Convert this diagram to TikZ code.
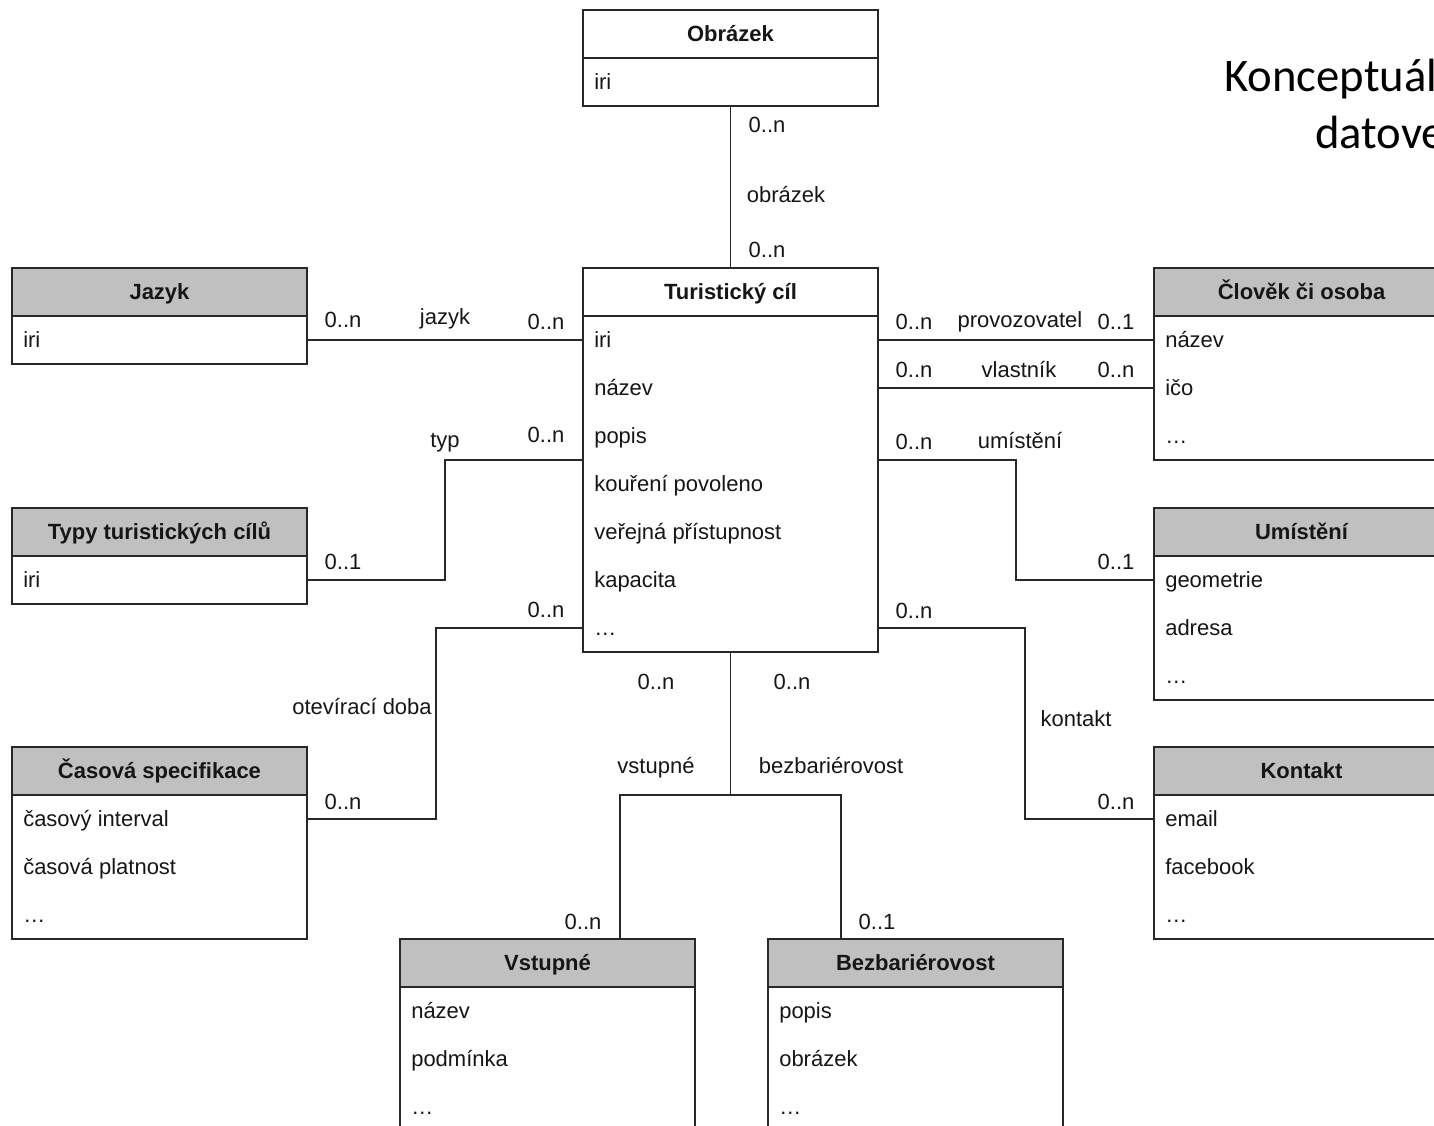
\documentclass[tikz,border=0pt]{standalone}
\usepackage{fontspec}
\setmainfont{Liberation Sans}
\newfontfamily\titlefont{Carlito}
\usetikzlibrary{calc}
\definecolor{hdrgray}{RGB}{192,192,192}
\definecolor{ink}{RGB}{22,22,22}
\definecolor{linecol}{RGB}{40,40,40}
\newcommand\entity[7]{%
  \node[#4] (#1) at (#2,#3) {#5};
  \node[erbody, minimum height=#6*36pt] (#1b) at (#1.south west) {};
  \foreach \attrtext [count=\idx] in {#7} {
    \coordinate (#1-r\idx) at ($(#1.south west)+(0,{24+48*(\idx-1)})$);
    \node[attr] (#1-\idx) at ($(#1.south west)+(11,{24+48*(\idx-1)+7.5})$) {\attrtext};
  }%
}
\begin{document}
\begin{tikzpicture}[x=0.75pt,y=-0.75pt,
  font=\fontsize{16.5}{19}\selectfont,
  erbox/.style={draw=linecol, line width=1.4pt, minimum width=221.25pt, inner sep=0pt, outer sep=0pt, anchor=north west},
  hdr/.style={erbox, minimum height=36pt, fill=hdrgray, font=\fontsize{16.5}{19}\selectfont\bfseries, text=ink, text height=11.8pt, text depth=0pt},
  hdrw/.style={hdr, fill=white},
  erbody/.style={erbox, fill=white},
  attr/.style={anchor=base west, inner sep=0pt, text=ink},
  lbl/.style={anchor=base, inner sep=0pt, text=ink},
  conn/.style={draw=linecol, line width=1.4pt},
]
\useasboundingbox (0,0) rectangle (1434,1126);
\clip (0,0) rectangle (1434,1126);
\fill[white] (0,0) rectangle (1434,1126);

\entity{ob}{583}{10}{hdrw}{Obrázek}{1}{iri}
\entity{tc}{583}{268}{hdrw}{Turistický cíl}{7}{iri,název,popis,kouření povoleno,veřejná přístupnost,kapacita,\ldots}
\entity{jz}{12}{268}{hdr}{Jazyk}{1}{iri}
\entity{ty}{12}{508}{hdr}{Typy turistických cílů}{1}{iri}
\entity{cs}{12}{747}{hdr}{Časová specifikace}{3}{časový interval,časová platnost,\ldots}
\entity{co}{1154}{268}{hdr}{Člověk či osoba}{3}{název,ičo,\ldots}
\entity{um}{1154}{508}{hdr}{Umístění}{3}{geometrie,adresa,\ldots}
\entity{ko}{1154}{747}{hdr}{Kontakt}{3}{email,facebook,\ldots}
\entity{vs}{400}{939}{hdr}{Vstupné}{3}{název,podmínka,\ldots}
\entity{bz}{768}{939}{hdr}{Bezbariérovost}{3}{popis,obrázek,\ldots}

\draw[conn] (obb.south) -- (tc.north);
\draw[conn] (jzb.east |- jz-r1) -- (tcb.west |- tc-r1);
\draw[conn] (tcb.west |- 0,460) -- (445,460) |- (tyb.east |- ty-r1);
\draw[conn] (tcb.west |- 0,628) -- (436,628) |- (csb.east |- cs-r1);
\draw[conn] (tcb.east |- tc-r1) -- (cob.west |- co-r1);
\draw[conn] (tcb.east |- tc-r2) -- (cob.west |- co-r2);
\draw[conn] (tcb.east |- 0,460) -- (1016,460) |- (umb.west |- um-r1);
\draw[conn] (tcb.east |- 0,628) -- (1025,628) |- (kob.west |- ko-r1);
\coordinate (split) at (tcb.south |- 0,795);
\draw[conn] (tcb.south) -- (split);
\draw[conn] (vs.north -| 620,0) |- (split) -| (bz.north -| 841,0);

% labels
\node[lbl] (l1) at (767,133) {0..n};
\node[lbl] (l2) at (786,203) {obrázek};
\node[lbl] (l3) at (767,258) {0..n};
\node[lbl] (l4) at (343,328) {0..n};
\node[lbl] (l5) at (445,325) {jazyk};
\node[lbl] (l6) at (546,330) {0..n};
\node[lbl] (l7) at (445,447) {typ};
\node[lbl] (l8) at (546,442) {0..n};
\node[lbl] (l9) at (343,569) {0..1};
\node[lbl] (l10) at (546,617) {0..n};
\node[lbl] (l11) at (362,714) {otevírací doba};
\node[lbl] (l12) at (343,809) {0..n};
\node[lbl] (l13) at (914,330) {0..n};
\node[lbl] (l14) at (1020,328) {provozovatel};
\node[lbl] (l15) at (1116,330) {0..1};
\node[lbl] (l16) at (914,378) {0..n};
\node[lbl] (l17) at (1019,378) {vlastník};
\node[lbl] (l18) at (1116,378) {0..n};
\node[lbl] (l19) at (914,450) {0..n};
\node[lbl] (l20) at (1020,449) {umístění};
\node[lbl] (l21) at (1116,569) {0..1};
\node[lbl] (l22) at (914,618) {0..n};
\node[lbl] (l23) at (1076,726) {kontakt};
\node[lbl] (l24) at (1116,809) {0..n};
\node[lbl] (l25) at (656,689) {0..n};
\node[lbl] (l26) at (792,689) {0..n};
\node[lbl] (l27) at (656,773) {vstupné};
\node[lbl] (l28) at (831,773) {bezbariérovost};
\node[lbl] (l29) at (583,929) {0..n};
\node[lbl] (l30) at (877,929) {0..1};

% title (cut off at the right edge, as in the reference)
\node[anchor=base west, inner sep=0pt, font=\titlefont\fontsize{35}{42}\selectfont] (t1) at (1224,92) {Konceptuál};
\node[anchor=base west, inner sep=0pt, font=\titlefont\fontsize{35}{42}\selectfont] (t2) at (1315,149) {datove};
\end{tikzpicture}
\end{document}
